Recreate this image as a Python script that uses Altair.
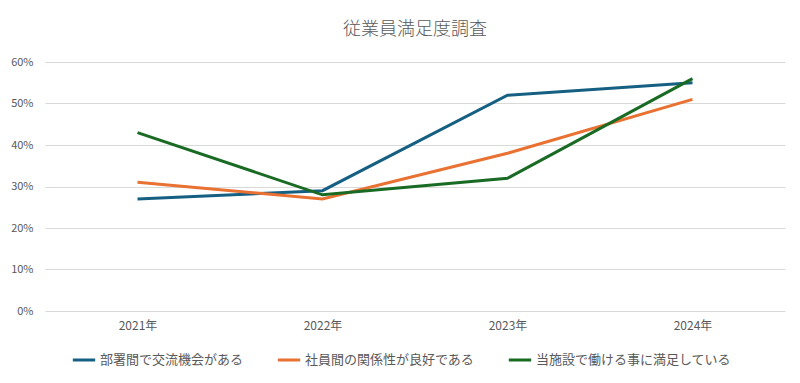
import altair as alt
import pandas as pd

years = ["2021年", "2022年", "2023年", "2024年"]
series_names = ["部署間で交流機会がある", "社員間の関係性が良好である", "当施設で働ける事に満足している"]
s1 = [0.27, 0.29, 0.52, 0.55]
s2 = [0.31, 0.27, 0.38, 0.51]
s3 = [0.43, 0.28, 0.32, 0.56]
colors = ["#156082", "#E97132", "#196B24"]

rows = []
for name, vals in zip(series_names, [s1, s2, s3]):
    for y, v in zip(years, vals):
        rows.append({"year": y, "series": name, "value": v})
df = pd.DataFrame(rows)

font = "Noto Sans CJK JP"
gray = "#595959"

chart = alt.Chart(df).mark_line(strokeWidth=3).encode(
    x=alt.X("year:N", sort=years, title=None,
            scale=alt.Scale(paddingInner=0, paddingOuter=0.5),
            axis=alt.Axis(labelAngle=0, ticks=False, domain=False, grid=False,
                          labelFontSize=12, labelColor=gray, labelFont=font, labelPadding=9)),
    y=alt.Y("value:Q", title=None,
            scale=alt.Scale(domain=[0, 0.6]),
            axis=alt.Axis(format=".0%", values=[0, 0.1, 0.2, 0.3, 0.4, 0.5, 0.6],
                          ticks=False, domain=False, gridColor="#d9d9d9", gridWidth=1,
                          labelFontSize=11, labelColor=gray, labelFont=font, labelPadding=12)),
    color=alt.Color("series:N", sort=series_names,
                    scale=alt.Scale(domain=series_names, range=colors),
                    legend=alt.Legend(title=None, orient="none", direction="horizontal",
                                      legendX=26, legendY=285,
                                      symbolType="stroke", symbolStrokeWidth=3, symbolSize=500,
                                      labelFontSize=13, labelColor=gray, labelFont=font,
                                      labelLimit=0, labelOffset=3, columnPadding=27,
                                      symbolOffset=0)),
).properties(
    width=740, height=249,
    title=alt.TitleParams("従業員満足度調査", fontSize=18, fontWeight=300, color=gray,
                          font=font, anchor="middle", offset=17),
    autosize=alt.AutoSizeParams(type="none"),
    padding={"left": 37, "top": 54, "right": 7, "bottom": 64},
).configure_view(stroke=None)

chart.save("out.html", embed_options={"renderer": "svg", "actions": False})
